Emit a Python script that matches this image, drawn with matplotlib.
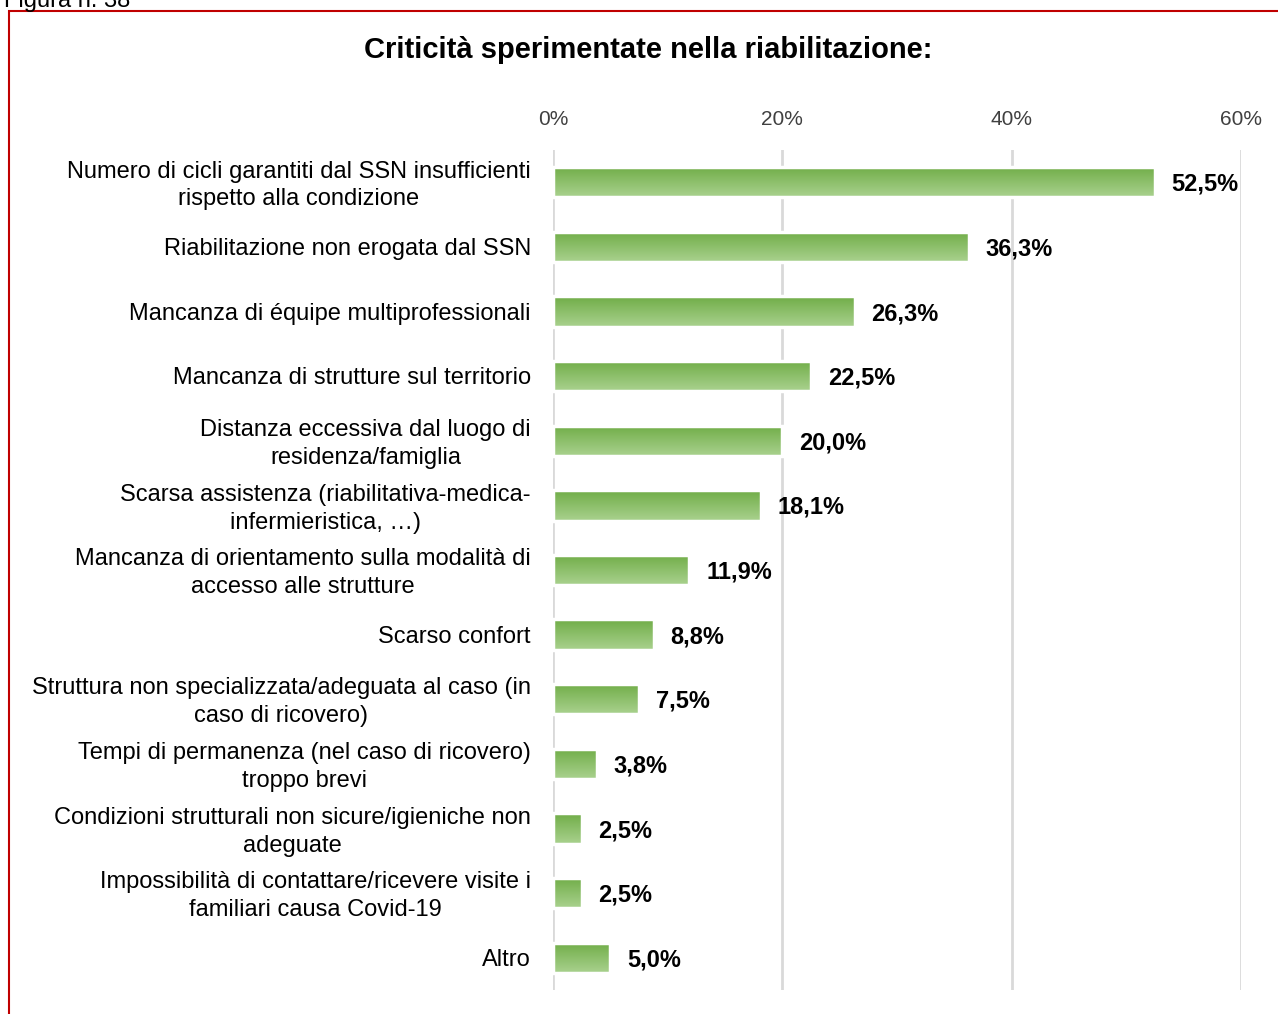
import numpy as np
import matplotlib.pyplot as plt
from matplotlib.patches import Rectangle
from matplotlib.colors import LinearSegmentedColormap

plt.rcParams['font.family'] = ['Liberation Sans', 'DejaVu Sans']

categories = [
    "Numero di cicli garantiti dal SSN insufficienti\nrispetto alla condizione",
    "Riabilitazione non erogata dal SSN",
    "Mancanza di équipe multiprofessionali",
    "Mancanza di strutture sul territorio",
    "Distanza eccessiva dal luogo di\nresidenza/famiglia",
    "Scarsa assistenza (riabilitativa-medica-\ninfermieristica, …)",
    "Mancanza di orientamento sulla modalità di\naccesso alle strutture",
    "Scarso confort",
    "Struttura non specializzata/adeguata al caso (in\ncaso di ricovero)",
    "Tempi di permanenza (nel caso di ricovero)\ntroppo brevi",
    "Condizioni strutturali non sicure/igieniche non\nadeguate",
    "Impossibilità di contattare/ricevere visite i\nfamiliari causa Covid-19",
    "Altro",
]
values = [52.5, 36.3, 26.3, 22.5, 20.0, 18.1, 11.9, 8.8, 7.5, 3.8, 2.5, 2.5, 5.0]
xticks = [0, 20, 40, 60]
xticklabels = ["0%", "20%", "40%", "60%"]

fig = plt.figure(figsize=(12.78, 10.14), dpi=100)
ax = fig.add_axes([553 / 1278, 1 - 990 / 1014, 688 / 1278, 840 / 1014])

green = LinearSegmentedColormap.from_list("g", ["#70ad47", "#a9d18e"])
grad = np.linspace(0, 1, 64).reshape(-1, 1)

y = np.arange(len(values))
h = 0.47
ax.barh(y, values, height=h, color="none", edgecolor="white", linewidth=2.5, zorder=3)
for yi, v in zip(y, values):
    ax.imshow(grad, cmap=green, aspect="auto", extent=[0, v, yi + h / 2, yi - h / 2],
              origin="upper", zorder=2, interpolation="bilinear")
    ax.annotate(f"{v:.1f}%".replace(".", ","), xy=(v, yi), xytext=(12, -1.5),
                textcoords="offset points", ha="left", va="center",
                fontsize=17, fontweight="bold", color="black")

# category labels, drawn as annotations so the two-line ones can sit where they do in the original
for yi, lab in zip(y, categories):
    dy = -2.3 if "\n" in lab else -1.5
    ax.annotate(lab, xy=(0, yi), xycoords=("axes fraction", "data"), xytext=(-16, dy),
                textcoords="offset points", ha="right", va="center",
                multialignment="center", linespacing=1.35, fontsize=17, color="black",
                annotation_clip=False)

ax.set_xlim(0, 60)
ax.set_ylim(len(values) - 0.5, -0.5)
ax.set_xticks(xticks)
ax.set_xticklabels(xticklabels, fontsize=15, color="#404040")
ax.xaxis.tick_top()
ax.set_yticks(y)
ax.set_yticklabels([])
ax.tick_params(axis="both", length=0)
ax.tick_params(axis="x", pad=15)
ax.grid(axis="x", color="#d9d9d9", linewidth=2, zorder=0)
ax.set_axisbelow(True)
for s in ax.spines.values():
    s.set_visible(False)

fig.text(648 / 1278, 1 - 50 / 1014, "Criticità sperimentate nella riabilitazione:",
         ha="center", va="center", fontsize=21, fontweight="bold")
fig.text(4 / 1278, 1 - 7 / 1014, "Figura n. 38", ha="left", va="baseline", fontsize=17)

border = Rectangle((9 / 1278, -0.05), 1.2, 1 - 11 / 1014 + 0.05, transform=fig.transFigure,
                   fill=False, edgecolor="#c00000", linewidth=1.5, clip_on=False)
fig.add_artist(border)

fig.savefig("out.png", dpi=100)
